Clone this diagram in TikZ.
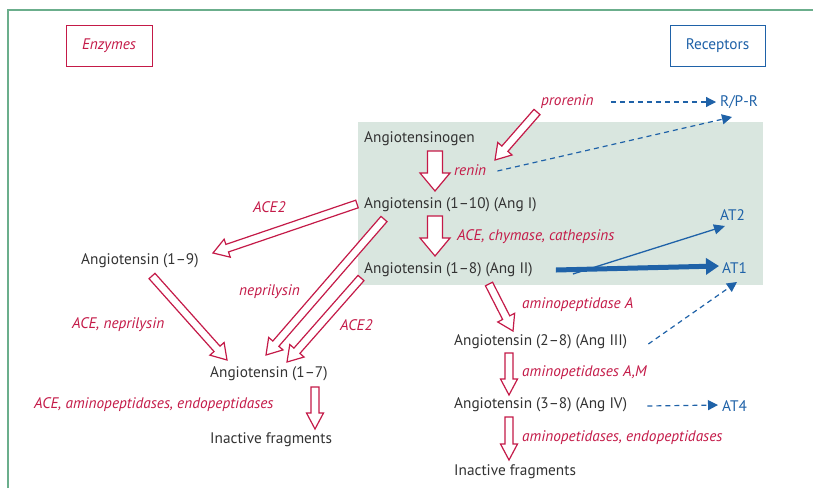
\documentclass[tikz,border=0pt]{standalone}
\usepackage{fontspec}
\setmainfont{PT Sans}
\usetikzlibrary{calc,arrows.meta}
\definecolor{crim}{HTML}{C41A48}
\definecolor{recblue}{HTML}{1F62A8}
\definecolor{txt}{HTML}{333333}
\definecolor{shadegreen}{HTML}{D9E6DF}
\definecolor{framegreen}{HTML}{6BAE8C}
\tikzset{
  lbl/.style={anchor=west, inner sep=0pt, text=txt, font=\fontsize{15.3}{17}\selectfont},
  enz/.style={anchor=west, inner sep=0pt, text=crim, font=\fontsize{15.3}{17}\selectfont\itshape},
  rec/.style={anchor=west, inner sep=0pt, text=recblue, font=\fontsize{15.3}{17}\selectfont},
  hollow/.style={draw=crim, fill=white, line width=1.2pt, line join=miter},
  bdash/.style={draw=recblue, line width=1.2pt, dash pattern=on 5pt off 4pt, -{Triangle[length=10pt,width=10pt]}},
  bsolid/.style={draw=recblue, line width=1.3pt, -{Triangle[length=11pt,width=10pt]}},
  bthick/.style={draw=recblue, line width=5pt, -{Triangle[length=13pt,width=16pt]}},
}
\newcommand\harrow[5]{%
  \coordinate (hh) at ($(#2)!#5!(#1)$);
  \draw[hollow] ($(#1)!#3!90:(#2)$) -- ($(hh)!#3!-90:(#1)$) -- ($(hh)!#4!-90:(#1)$) -- (#2)
    -- ($(hh)!#4!90:(#1)$) -- ($(hh)!#3!90:(#1)$) -- ($(#1)!#3!-90:(#2)$) -- cycle;}
\begin{document}
\begin{tikzpicture}[x=1pt,y=-1pt]
\useasboundingbox (0,0) rectangle (813,488);
\fill[white] (0,0) rectangle (813,488);
\draw[framegreen, line width=1.5pt] (8,488) -- (8,10) -- (813,10);
\fill[shadegreen] (358,122) rectangle (763,285);

% header boxes
\node[draw=crim, line width=1pt, minimum width=86pt, minimum height=41pt, inner sep=0pt, text=crim, font=\fontsize{15.3}{17}\selectfont\itshape] (enzymes) at (109,45.5) {Enzymes};
\node[draw=recblue, line width=1pt, minimum width=95pt, minimum height=41pt, inner sep=0pt, text=recblue, font=\fontsize{15.3}{17}\selectfont] (receptors) at (717.5,45.5) {Receptors};

% substances
\node[lbl] (agt) at (364,139) {Angiotensinogen};
\node[lbl] (ang1) at (364,205) {Angiotensin (1–10) (Ang I)};
\node[lbl] (ang2) at (364,270) {Angiotensin (1–8) (Ang II)};
\node[lbl] (ang19) at (81,261) {Angiotensin (1–9)};
\node[lbl] (ang17) at (210,374) {Angiotensin (1–7)};
\node[lbl] (inact1) at (210,440) {Inactive fragments};
\node[lbl] (ang3) at (454,342) {Angiotensin (2–8) (Ang III)};
\node[lbl] (ang4) at (454,405) {Angiotensin (3–8) (Ang IV)};
\node[lbl] (inact2) at (454,472) {Inactive fragments};

% enzymes
\node[enz] (prorenin) at (541,102) {prorenin};
\node[enz] (renin) at (454,170) {renin};
\node[enz] (acechy) at (457,237) {ACE, chymase, cathepsins};
\node[enz] (ace2a) at (253,207) {ACE2};
\node[enz] (nep) at (239,292) {neprilysin};
\node[enz] (acenep) at (72,325) {ACE, neprilysin};
\node[enz] (ace2b) at (340,325) {ACE2};
\node[enz] (aceamino) at (34,405) {ACE, aminopeptidases, endopeptidases};
\node[enz] (apa) at (522,305) {aminopeptidase A};
\node[enz] (apam) at (522,373) {aminopetidases A,M};
\node[enz] (apendo) at (522,438) {aminopetidases, endopeptidases};

% receptors
\node[rec] (rpr) at (720,102) {R/P-R};
\node[rec] (at2) at (720,215) {AT2};
\node[rec] (at1) at (722,268) {AT1};
\node[rec] (at4) at (722,406) {AT4};

% hollow arrow end points
\coordinate (pr1) at (537,112); \coordinate (pr2) at (495,160);
\coordinate (a1) at (435,151); \coordinate (a2) at (435,191);
\coordinate (b1) at (435,216); \coordinate (b2) at (435,256);
\coordinate (c1) at (357,204); \coordinate (c2) at (213,253);
\coordinate (d1) at (384,219); \coordinate (d2) at (266,355);
\coordinate (e1) at (361,278); \coordinate (e2) at (287,362);
\coordinate (f1) at (152,276); \coordinate (f2) at (227,360);
\coordinate (g1) at (489,284); \coordinate (g2) at (513,331);
\coordinate (h1) at (315,387); \coordinate (h2) at (315,429);
\coordinate (i1) at (509,353); \coordinate (i2) at (509,395);
\coordinate (j1) at (509,417); \coordinate (j2) at (509,460);

\harrow{pr1}{pr2}{4pt}{9.5pt}{15pt}
\harrow{a1}{a2}{7.5pt}{15pt}{18pt}
\harrow{b1}{b2}{7.5pt}{15pt}{18pt}
\harrow{c1}{c2}{4pt}{9.5pt}{15pt}
\harrow{d1}{d2}{4pt}{9.5pt}{15pt}
\harrow{e1}{e2}{4pt}{9.5pt}{15pt}
\harrow{f1}{f2}{4pt}{9.5pt}{15pt}
\harrow{g1}{g2}{4pt}{9.5pt}{15pt}
\harrow{h1}{h2}{4pt}{8.5pt}{16pt}
\harrow{i1}{i2}{4pt}{8.5pt}{16pt}
\harrow{j1}{j2}{4pt}{8.5pt}{16pt}

% blue connectors
\coordinate (rprin) at (716,102);
\coordinate (rprin2) at (732,117);
\coordinate (at2in) at (725,226);
\coordinate (at1in) at (719,266);
\coordinate (at1in2) at (737,282);
\coordinate (at4in) at (718,405);
\draw[bdash] ([xshift=17pt]prorenin.east) -- (rprin);
\draw[bdash] ([xshift=11pt,yshift=-1pt]renin.east) -- (rprin2);
\draw[bthick] ([xshift=23pt]ang2.east) -- (at1in);
\draw[bsolid] ([xshift=40pt,yshift=-4pt]ang2.east) -- (at2in);
\draw[bdash] ([xshift=21pt,yshift=-2pt]ang3.east) -- (at1in2);
\draw[bdash] ([xshift=20pt,yshift=-1pt]ang4.east) -- (at4in);
\end{tikzpicture}
\end{document}
